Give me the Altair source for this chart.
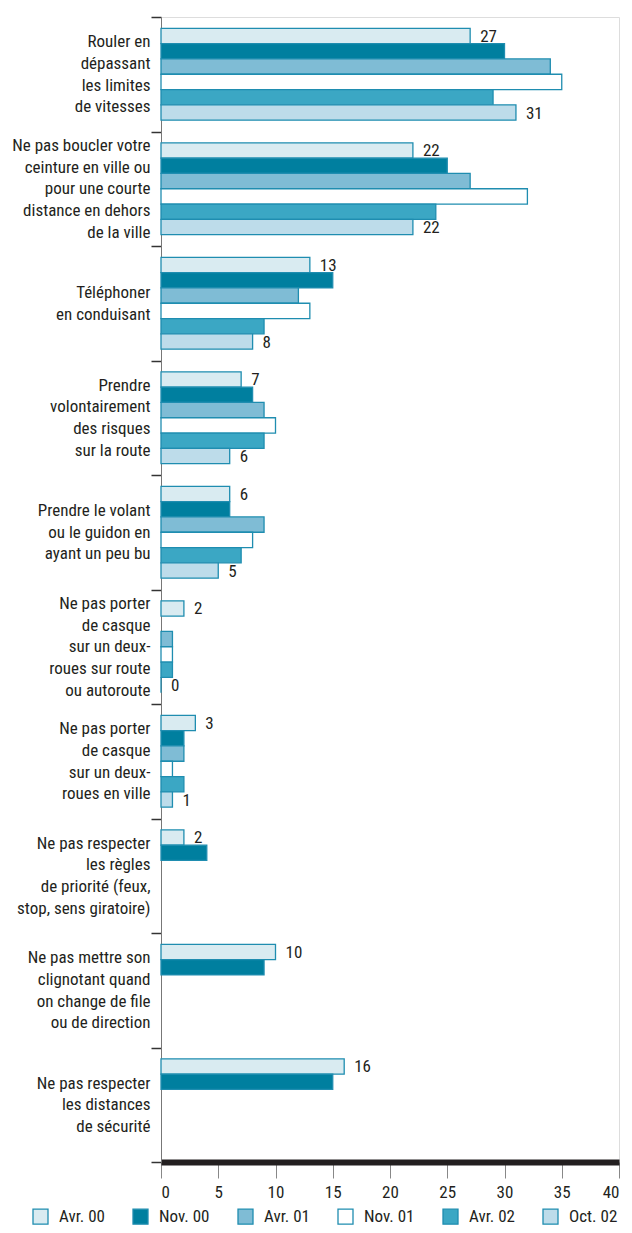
import altair as alt
import pandas as pd

FONT = "Roboto Condensed"
TXT = "#231f20"

categories = [
    "Rouler en|dépassant|les limites|de vitesses",
    "Ne pas boucler votre|ceinture en ville ou|pour une courte|distance en dehors|de la ville",
    "Téléphoner|en conduisant",
    "Prendre|volontairement|des risques|sur la route",
    "Prendre le volant|ou le guidon en|ayant un peu bu",
    "Ne pas porter|de casque|sur un deux-|roues sur route|ou autoroute",
    "Ne pas porter|de casque|sur un deux-|roues en ville",
    "Ne pas respecter|les règles|de priorité (feux,|stop, sens giratoire)",
    "Ne pas mettre son|clignotant quand|on change de file|ou de direction",
    "Ne pas respecter|les distances|de sécurité",
]
series = ["Avr. 00", "Nov. 00", "Avr. 01", "Nov. 01", "Avr. 02", "Oct. 02"]
avr00 = [27, 22, 13, 7, 6, 2, 3, 2, 10, 16]
nov00 = [30, 25, 15, 8, 6, None, 2, 4, 9, 15]
avr01 = [34, 27, 12, 9, 9, 1, 2, None, None, None]
nov01 = [35, 32, 13, 10, 8, 1, 1, None, None, None]
avr02 = [29, 24, 9, 9, 7, 1, 2, None, None, None]
oct02 = [31, 22, 8, 6, 5, 0, 1, None, None, None]
labelled = ["Avr. 00", "Oct. 02"]
colors = ["#d9ebf1", "#007f9f", "#7fbcd5", "#ffffff", "#3ba7c4", "#bddcea"]
STROKE = "#1f8db0"

rows = []
for s, vals in zip(series, [avr00, nov00, avr01, nov01, avr02, oct02]):
    for c, v in zip(categories, vals):
        if v is not None:
            rows.append({"cat": c, "series": s, "value": v})
df = pd.DataFrame(rows)

LH = 21.7
NLINES = "length(split(datum.value,'|'))"
# shift each multi-line label up by half its block height so it is centred on its band
label_offset = {
    "condition": [
        {"test": f"{NLINES} == 5", "value": -2 * LH},
        {"test": f"{NLINES} == 4", "value": -1.5 * LH},
        {"test": f"{NLINES} == 3", "value": -1 * LH},
    ],
    "value": -0.5 * LH,
}

y_enc = alt.Y(
    "cat:N",
    sort=categories,
    scale=alt.Scale(paddingInner=0, paddingOuter=0),
    axis=alt.Axis(
        title=None,
        labelExpr="split(datum.label, '|')",
        tickBand="extent",
        labelAlign="right",
        labelBaseline="middle",
        labelLineHeight=LH,
        labelOffset=label_offset,
        labelFontSize=17,
        labelFont=FONT,
        labelColor=TXT,
        labelPadding=1,
        labelLimit=400,
        domainColor="#777777",
        domainWidth=1,
        tickColor="#333333",
        tickWidth=1.5,
        tickSize=10,
        grid=False,
    ),
)
yoff_enc = alt.YOffset(
    "series:N",
    sort=series,
    scale=alt.Scale(domain=series, paddingOuter=0.74, paddingInner=0),
)
x_enc = alt.X(
    "value:Q",
    scale=alt.Scale(domain=[0, 40], nice=False),
    axis=alt.Axis(
        title=None,
        values=list(range(0, 41, 5)),
        domainColor=TXT,
        domainWidth=6,
        tickColor="#888888",
        tickWidth=1,
        tickSize=16,
        labelFontSize=17,
        labelFont=FONT,
        labelColor=TXT,
        labelPadding=6,
        grid=False,
    ),
)

base = alt.Chart(df)
bars = base.mark_bar(stroke=STROKE, strokeWidth=1.3).encode(
    x=x_enc,
    y=y_enc,
    yOffset=yoff_enc,
    color=alt.Color(
        "series:N",
        sort=series,
        scale=alt.Scale(domain=series, range=colors),
        legend=alt.Legend(
            title=None,
            orient="none",
            direction="horizontal",
            columns=6,
            legendX=-129,
            legendY=1191,
            symbolType="square",
            symbolSize=225,
            symbolStrokeColor=STROKE,
            symbolStrokeWidth=1.3,
            labelFont=FONT,
            labelFontSize=17,
            labelColor=TXT,
            labelOffset=10,
            columnPadding=25,
        ),
    ),
)
labels = base.transform_filter(
    alt.FieldOneOfPredicate(field="series", oneOf=labelled)
).mark_text(
    align="left", baseline="middle", dx=10, dy=1, fontSize=17, font=FONT, color=TXT
).encode(
    x=alt.X("value:Q"),
    y=alt.Y("cat:N", sort=categories),
    yOffset=alt.YOffset("series:N", sort=series),
    text=alt.Text("value:Q"),
)

chart = (
    alt.layer(bars, labels)
    .properties(
        width=458,
        height=1145,
        autosize=alt.AutoSizeParams(type="none"),
        padding={"left": 153, "top": 9, "right": 5, "bottom": 63},
    )
    .configure_view(stroke=None)
    .configure(font=FONT)
)

chart.save("out.html", embed_options={"renderer": "svg", "actions": False})
